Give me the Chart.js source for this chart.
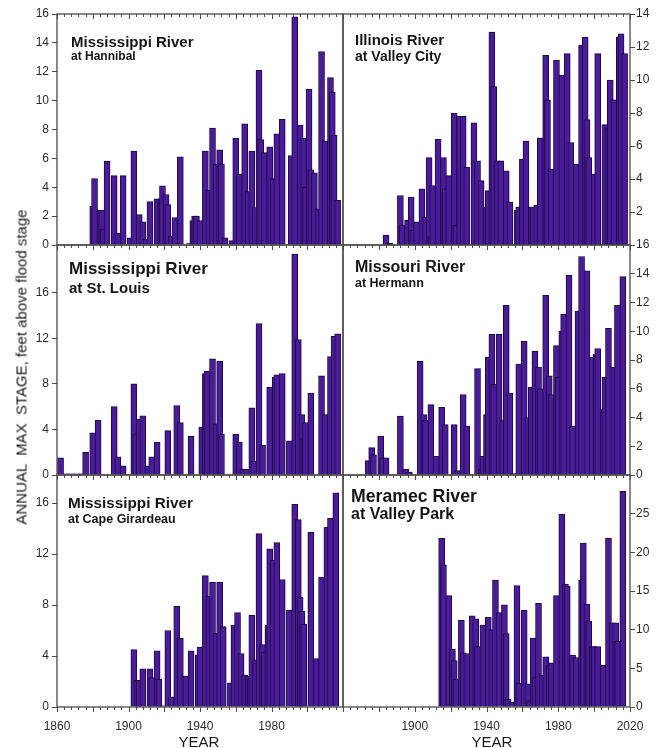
<!DOCTYPE html>
<html><head><meta charset="utf-8">
<script src="https://cdn.jsdelivr.net/npm/chart.js@4.4.0/dist/chart.umd.min.js"></script>
<style>
body{margin:0;background:#fff;}
#wrap{position:relative;width:661px;height:748px;overflow:hidden;background:#fff;}
canvas{position:absolute;}
.t{position:absolute;font-family:'Liberation Sans',Arial,sans-serif;font-weight:bold;color:#161616;white-space:nowrap;line-height:1;}
.ax{position:absolute;font-family:'Liberation Sans',Arial,sans-serif;color:#1a1a1a;white-space:pre;line-height:1;font-size:15px;}
</style></head>
<body><div id="wrap">
<canvas id="c1" width="346" height="255" style="left:0;top:0"></canvas>
<canvas id="c2" width="321" height="255" style="left:340px;top:0"></canvas>
<canvas id="c3" width="346" height="250" style="left:0;top:235px"></canvas>
<canvas id="c4" width="321" height="250" style="left:340px;top:235px"></canvas>
<canvas id="c5" width="346" height="283" style="left:0;top:465px"></canvas>
<canvas id="c6" width="321" height="283" style="left:340px;top:465px"></canvas>
<div class="ax" style="left:21px;top:367px;transform:translate(-50%,-50%) rotate(-90deg);">ANNUAL  MAX  STAGE, feet above flood stage</div>
<div class="ax" id="yr1">YEAR</div>
<div class="ax" id="yr2">YEAR</div>
</div>
<script>
// ---- data (feet above flood stage, annual maximum) ----
const hannibalYears = [1880,1881,1884,1885,1886,1888,1892,1894,1897,1901,1903,1906,1908,1910,1912,1916,1918,1919,1921,1922,1924,1926,1929,1934,1936,1937,1938,1940,1943,1945,1947,1949,1951,1952,1954,1958,1960,1962,1965,1967,1969,1971,1973,1974,1976,1979,1981,1983,1986,1991,1993,1996,1998,1999,2001,2002,2004,2006,2008,2010,2013,2014,2015,2017];
const hannibalStage = [2.7,4.6,2.4,2.4,1.1,5.8,4.8,0.8,4.8,0.5,6.5,2.1,1.6,0.4,3.0,3.2,3.2,4.1,3.5,2.8,0.6,1.9,6.1,0.1,1.7,2.0,2.0,1.7,6.5,3.8,8.1,5.6,6.6,5.6,0.5,0.3,7.4,4.9,8.4,3.7,6.5,2.6,12.1,7.3,6.4,6.8,4.6,7.7,8.7,6.2,15.8,8.3,7.4,4.0,10.8,5.2,5.0,2.5,13.4,7.2,11.6,10.6,7.6,3.1];

const illinoisYears = [1884,1886,1892,1893,1896,1898,1899,1901,1904,1906,1908,1909,1910,1913,1916,1917,1919,1922,1923,1925,1927,1929,1933,1935,1937,1940,1941,1943,1944,1946,1948,1951,1953,1957,1958,1960,1962,1965,1966,1968,1970,1973,1974,1976,1979,1982,1985,1987,1990,1993,1995,1996,1997,2000,2002,2006,2008,2009,2011,2014,2015,2017];
const illinoisStage = [0.6,0.1,3.0,1.2,1.5,2.9,0.9,1.4,3.4,1.7,5.3,0.5,3.6,6.4,5.3,3.4,4.2,8.0,1.2,7.8,7.8,4.7,7.4,5.1,3.9,2.3,3.3,12.9,9.6,5.1,5.1,4.5,2.6,2.1,2.3,5.2,6.3,2.3,2.3,2.4,6.5,11.5,8.8,4.6,11.2,10.3,11.6,6.2,4.9,12.1,12.6,7.6,5.3,4.3,11.6,7.3,7.1,10.0,8.8,12.6,12.8,11.6];

const stLouisYears = [1862,1865,1868,1871,1874,1876,1880,1883,1892,1894,1897,1903,1904,1906,1908,1911,1913,1916,1922,1927,1929,1935,1941,1943,1944,1947,1949,1951,1952,1960,1962,1964,1966,1969,1970,1973,1975,1979,1982,1983,1986,1990,1993,1995,1997,1998,1999,2002,2008,2010,2013,2015,2017];
const stLouisStage = [1.5,0.1,0.1,0.1,0.1,2.0,3.7,4.8,6.0,1.6,0.8,8.0,3.6,4.9,5.2,0.8,1.6,2.9,3.9,6.1,4.6,3.4,4.2,8.9,9.1,10.2,4.5,10.0,3.6,3.6,2.9,0.5,0.5,5.9,1.2,13.3,2.6,7.7,8.6,8.8,8.9,3.0,19.4,11.9,5.3,3.2,4.6,7.2,8.7,5.3,10.4,12.2,12.4];

const hermannYears = [1874,1876,1877,1881,1882,1884,1892,1895,1897,1903,1905,1906,1909,1912,1915,1917,1922,1924,1927,1929,1935,1937,1938,1940,1941,1943,1944,1947,1949,1951,1953,1955,1958,1961,1963,1965,1967,1969,1970,1973,1975,1976,1979,1980,1982,1983,1986,1988,1991,1993,1996,1999,2001,2002,2005,2006,2008,2011,2013,2016];
const hermannStage = [1.0,1.9,1.4,2.7,1.2,1.2,4.1,0.4,0.2,7.9,4.2,3.8,4.9,1.3,4.7,3.5,3.5,0.3,5.6,3.4,7.4,0.4,1.3,4.2,8.2,9.8,6.3,9.8,3.8,11.8,5.7,0.1,7.7,9.3,4.0,6.1,8.6,7.5,6.0,12.5,6.9,5.6,9.0,6.8,10.0,11.2,13.9,3.4,11.4,15.2,14.2,8.2,8.4,8.8,4.6,6.8,10.2,7.5,11.8,13.8];

const capeYears = [1903,1905,1906,1908,1912,1913,1916,1917,1919,1922,1924,1927,1929,1932,1935,1939,1940,1943,1945,1947,1949,1951,1953,1957,1959,1961,1963,1965,1967,1968,1969,1971,1973,1975,1976,1978,1979,1981,1983,1986,1990,1993,1995,1996,1997,1998,2002,2005,2008,2011,2013,2016];
const capeStage = [4.5,2.1,2.1,3.0,3.0,2.3,4.4,2.2,0.1,6.0,0.8,7.9,5.4,2.4,4.4,4.1,4.7,10.3,8.7,9.8,5.8,9.8,6.3,1.9,6.4,7.4,4.2,2.5,2.4,2.2,7.2,3.7,13.6,4.9,4.3,6.4,12.4,11.5,12.9,10.0,7.6,15.9,14.7,8.6,7.5,6.5,13.7,3.8,10.2,14.1,14.8,16.8];

const meramecYears = [1915,1916,1919,1921,1922,1923,1926,1927,1929,1932,1934,1935,1938,1941,1943,1945,1947,1950,1951,1952,1954,1957,1958,1961,1963,1964,1966,1967,1969,1971,1973,1975,1976,1979,1982,1984,1985,1988,1990,1993,1994,1996,1997,1999,2000,2002,2005,2008,2010,2012,2013,2016];
const meramecStage = [21.8,18.4,14.4,7.5,6.0,3.6,11.2,7.0,6.9,11.8,11.4,7.8,10.6,11.6,10.0,16.4,12.2,13.2,9.5,1.0,0.6,15.7,3.1,12.5,3.0,0.8,8.9,3.8,13.4,4.1,6.5,5.4,5.7,14.4,24.9,15.9,15.6,6.7,6.4,16.4,21.2,13.3,11.1,7.8,7.8,7.8,5.4,21.8,10.9,10.9,8.5,27.9];

const xMin = 1860, xMax = 2020;
const tickStepMinor = 4, tickStepMajor = 20, labelStep = 40;

// ---- drawing ----
Chart.defaults.font.family = "'Liberation Sans', Arial, sans-serif";
Chart.defaults.color = '#2a2a2a';

const FILL = '#4a1b9a', EDGE = '#1c0a3c', FRAME = '#4a4a4a';

function framePlugin(drawBottom){
  return {
    id:'frame',
    afterDatasetsDraw(chart){
      const {ctx, chartArea:a} = chart; const x = chart.scales.x;
      ctx.save();
      ctx.strokeStyle = FRAME; ctx.lineWidth = 1.3;
      ctx.strokeRect(a.left, a.top, a.right - a.left, a.bottom - a.top);
      ctx.lineWidth = 1;
      const edges = drawBottom ? [a.top, a.bottom] : [a.top];
      for (let v = xMin; v <= xMax; v += tickStepMinor){
        const px = Math.round(x.getPixelForValue(v)) + 0.5;
        const len = (v - xMin) % tickStepMajor === 0 ? 5 : 3;
        for (const e of edges){ ctx.beginPath(); ctx.moveTo(px, e); ctx.lineTo(px, e + len); ctx.stroke(); }
      }
      ctx.restore();
    }
  };
}

function makePanel(p){
  const left = p.side === 'left';
  const bottomRow = p.row === 2;
  const pad = { top: p.row === 0 ? 14 : 10, bottom: bottomRow ? 0 : 10, left: left ? 0 : 3, right: left ? 3 : 0 };
  new Chart(document.getElementById(p.id), {
    type: 'bar',
    data: { datasets: [{
      data: p.years.map((yr, i) => ({ x: yr, y: p.vals[i] })),
      backgroundColor: FILL, borderColor: EDGE, borderWidth: 1, barThickness: 6, grouped: false
    }]},
    options: {
      responsive: false, animation: false, devicePixelRatio: 1,
      layout: { padding: pad },
      plugins: { legend: { display: false }, tooltip: { enabled: false } },
      scales: {
        x: {
          type: 'linear', min: xMin, max: xMax, offset: false,
          display: bottomRow,
          grid: { display: false, drawTicks: false, offset: false }, border: { display: false },
          ticks: { stepSize: labelStep, padding: 12, color: '#2a2a2a', font: { size: 12 }, maxRotation: 0,
            callback: v => (p.hideX.includes(v) ? '' : String(v)) },
          afterFit: s => { s.height = bottomRow ? 41 : 0; s.paddingLeft = 0; s.paddingRight = 0; }
        },
        y: {
          position: left ? 'left' : 'right',
          min: 0, max: p.yMax,
          grid: { drawOnChartArea: false, drawTicks: true, tickLength: 5, color: FRAME },
          border: { display: false },
          ticks: { stepSize: p.step, padding: left ? 3 : 1, color: '#2a2a2a', font: { size: 12 } },
          afterBuildTicks: s => { s.ticks = s.ticks.filter(t => t.value >= p.labelMin && t.value <= p.labelMax); },
          afterFit: s => { s.width = left ? 57 : 31; s.paddingTop = 0; s.paddingBottom = 0; }
        }
      }
    },
    plugins: [framePlugin(bottomRow)]
  });
}

const panels = [
  { id:'c1', years: hannibalYears, vals: hannibalStage, side:'left',  row:0, yMax:16,   step:2, labelMin:0, labelMax:16, hideX:[] },
  { id:'c2', years: illinoisYears, vals: illinoisStage, side:'right', row:0, yMax:14,   step:2, labelMin:2, labelMax:14, hideX:[] },
  { id:'c3', years: stLouisYears,  vals: stLouisStage,  side:'left',  row:1, yMax:20.2, step:4, labelMin:0, labelMax:16, hideX:[] },
  { id:'c4', years: hermannYears,  vals: hermannStage,  side:'right', row:1, yMax:16,   step:2, labelMin:0, labelMax:16, hideX:[] },
  { id:'c5', years: capeYears,     vals: capeStage,     side:'left',  row:2, yMax:18.2, step:4, labelMin:0, labelMax:16, hideX:[2020] },
  { id:'c6', years: meramecYears,  vals: meramecStage,  side:'right', row:2, yMax:30,   step:5, labelMin:0, labelMax:25, hideX:[1860] }
];
panels.forEach(makePanel);

// ---- panel titles ----
const titles = [
  { l1:'Mississippi River', s1:15, l2:'at Hannibal',      s2:12, x:71,  b1:46.7,  b2:60 },
  { l1:'Illinois River',    s1:15, l2:'at Valley City',   s2:14, x:355, b1:44.5,  b2:60.5 },
  { l1:'Mississippi River', s1:17, l2:'at St. Louis',     s2:15, x:69,  b1:274.3, b2:292.3 },
  { l1:'Missouri River',    s1:16, l2:'at Hermann',       s2:12.5, x:355, b1:272.3, b2:287.3 },
  { l1:'Mississippi River', s1:15.3, l2:'at Cape Girardeau', s2:12.5, x:68, b1:508.3, b2:523.7 },
  { l1:'Meramec River',     s1:17.7, l2:'at Valley Park', s2:16, x:351, b1:502.7, b2:520 }
];
const wrap = document.getElementById('wrap');
function addText(txt, size, x, base){
  const d = document.createElement('div'); d.className = 't'; d.textContent = txt;
  d.style.fontSize = size + 'px'; d.style.left = x + 'px'; d.style.top = (base - 0.8465 * size) + 'px';
  wrap.appendChild(d);
}
titles.forEach(t => { addText(t.l1, t.s1, t.x, t.b1); addText(t.l2, t.s2, t.x, t.b2); });

const yr1 = document.getElementById('yr1'), yr2 = document.getElementById('yr2');
yr1.style.left = '199px'; yr1.style.top = (746.5 - 0.8465*15) + 'px'; yr1.style.transform = 'translateX(-50%)';
yr2.style.left = '492px'; yr2.style.top = (746.5 - 0.8465*15) + 'px'; yr2.style.transform = 'translateX(-50%)';
</script>
</body></html>
